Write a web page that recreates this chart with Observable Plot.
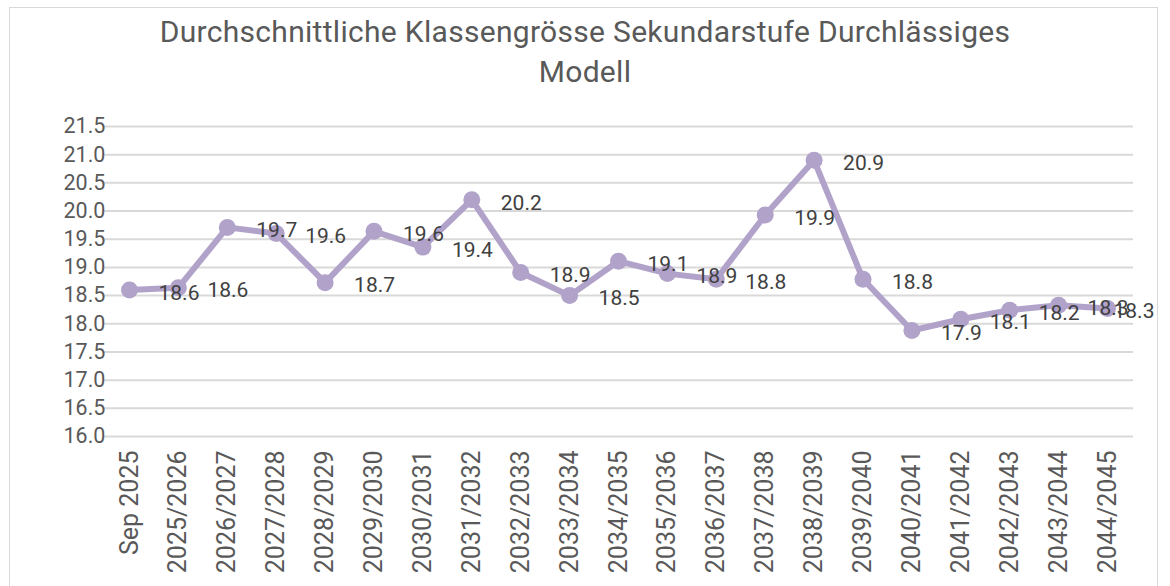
<!DOCTYPE html>
<html>
<head>
<meta charset="utf-8">
<script src="https://cdn.jsdelivr.net/npm/d3@7"></script>
<script src="https://cdn.jsdelivr.net/npm/@observablehq/plot@0.6"></script>
<style>
  html, body { margin: 0; padding: 0; background: #fff; }
  body { width: 1170px; height: 586px; overflow: hidden; position: relative; font-family: Roboto, "Open Sans", sans-serif; }
  #frame { position: absolute; left: 9px; top: 7px; width: 1149px; height: 600px; border: 1.5px solid #d9d9d9; box-sizing: border-box; }
  #title { position: absolute; left: 0; top: 12px; width: 1170px; text-align: center; color: #595959; font-size: 30px; line-height: 40px; font-weight: 400; letter-spacing: 0.3px; }
  #chart { position: absolute; left: 0; top: 100px; }
</style>
</head>
<body>
<div id="frame"></div>
<div id="title">Durchschnittliche Klassengrösse Sekundarstufe Durchlässiges<br>Modell</div>
<div id="chart"></div>
<script>
const categories = ["Sep 2025","2025/2026","2026/2027","2027/2028","2028/2029","2029/2030","2030/2031","2031/2032","2032/2033","2033/2034","2034/2035","2035/2036","2036/2037","2037/2038","2038/2039","2039/2040","2040/2041","2041/2042","2042/2043","2043/2044","2044/2045"];
const values = [18.60,18.64,19.71,19.60,18.73,19.64,19.36,20.20,18.91,18.50,19.11,18.89,18.79,19.93,20.90,18.79,17.88,18.08,18.24,18.33,18.27];
const yTicks = [16.0,16.5,17.0,17.5,18.0,18.5,19.0,19.5,20.0,20.5,21.0,21.5];

const data = categories.map((c, i) => ({cat: c, v: values[i]}));
const color = "#b1a2ca";
const labelStyle = {x: "cat", y: "v", text: d => d.v.toFixed(1), textAnchor: "start", dy: 3, fontSize: 21, fill: "#404040"};

const chart = Plot.plot({
  width: 1170,
  height: 486,
  marginLeft: 129,
  marginRight: 63,
  marginTop: 26,
  marginBottom: 150,
  style: {fontFamily: "Roboto, sans-serif", color: "#595959", background: "transparent", overflow: "visible"},
  x: {type: "point", domain: categories, padding: 0, round: false, label: null},
  y: {domain: [16, 21.5], label: null},
  marks: [
    Plot.ruleY(yTicks, {stroke: "#d9d9d9", strokeWidth: 2, insetLeft: -25, insetRight: -26}),
    Plot.axisY({ticks: yTicks, tickFormat: d3.format(".1f"), tickSize: 0, tickPadding: 0, fontSize: 21.5, fill: "#595959", textAnchor: "start", dx: -66, label: null}),
    Plot.axisX({tickRotate: -90, tickSize: 0, tickPadding: 14, fontSize: 25, fill: "#595959", label: null}),
    Plot.line(data, {x: "cat", y: "v", stroke: color, strokeWidth: 6, strokeLinejoin: "round"}),
    Plot.dot(data, {x: "cat", y: "v", r: 8.5, fill: color, stroke: null}),
    Plot.text(data.slice(0, -1), {...labelStyle, dx: 29}),
    Plot.text(data.slice(-1), {...labelStyle, dx: 6})
  ]
});
document.getElementById("chart").appendChild(chart);
</script>
</body>
</html>
